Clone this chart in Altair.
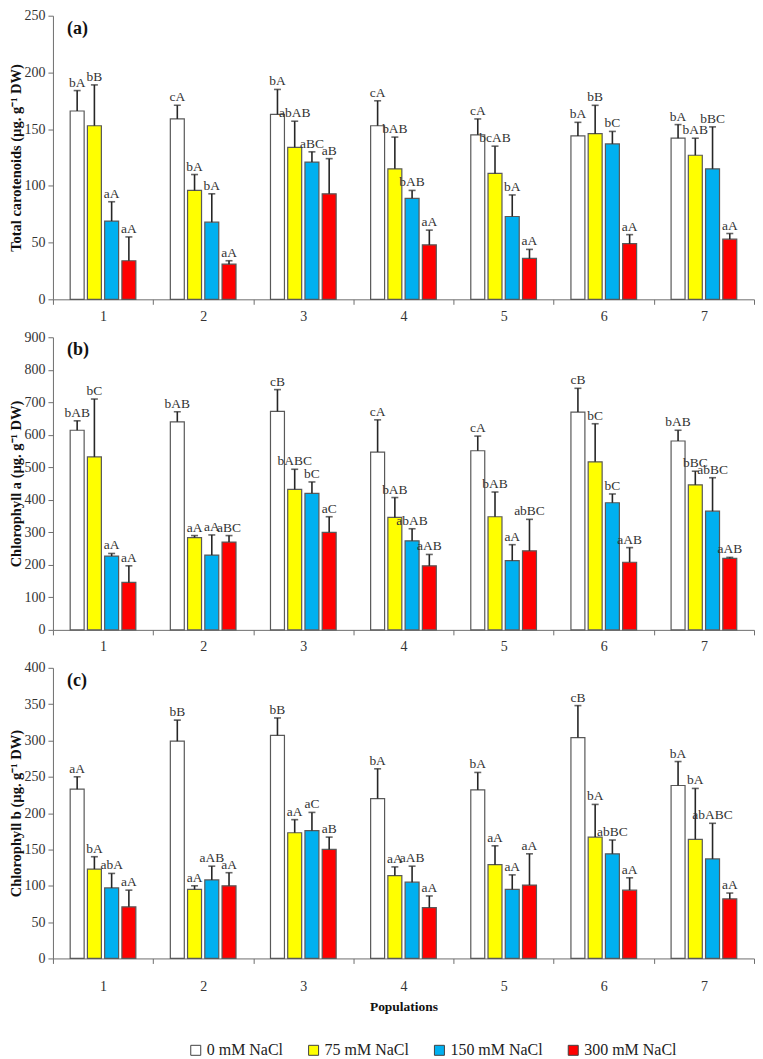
import altair as alt
import pandas as pd

populations = ["1", "2", "3", "4", "5", "6", "7"]
treatments = ["0 mM NaCl", "75 mM NaCl", "150 mM NaCl", "300 mM NaCl"]
fill_colors = ["#FFFFFF", "#FFFF00", "#00B0F0", "#FF0000"]

# (a) Total carotenoids
car_mean_0 = [166, 159, 163, 153, 145, 144, 142]
car_sd_0 = [18, 12, 22, 22, 14, 12, 12]
car_mean_75 = [153, 96, 134, 115, 111, 146, 127]
car_sd_75 = [36, 14, 23, 28, 24, 25, 15]
car_mean_150 = [69, 68, 121, 89, 73, 137, 115]
car_sd_150 = [17, 25, 9, 7, 19, 11, 37]
car_mean_300 = [34, 31, 93, 48, 36, 49, 53]
car_sd_300 = [21, 3, 31, 13, 8, 8, 5]
car_let_0 = ["bA", "cA", "bA", "cA", "cA", "bA", "bA"]
car_let_75 = ["bB", "bA", "abAB", "bAB", "bcAB", "bB", "bAB"]
car_let_150 = ["aA", "bA", "aBC", "bAB", "bA", "bC", "bBC"]
car_let_300 = ["aA", "aA", "aB", "aA", "aA", "aA", "aA"]

# (b) Chlorophyll a
cha_mean_0 = [614, 640, 672, 547, 551, 670, 581]
cha_sd_0 = [29, 31, 67, 99, 45, 73, 33]
cha_mean_75 = [532, 284, 432, 346, 348, 517, 446]
cha_sd_75 = [178, 6, 62, 61, 76, 117, 42]
cha_mean_150 = [227, 230, 420, 274, 213, 391, 365]
cha_sd_150 = [8, 62, 35, 37, 49, 27, 103]
cha_mean_300 = [146, 270, 300, 197, 243, 208, 220]
cha_sd_300 = [51, 20, 48, 35, 97, 45, 3]
cha_let_0 = ["bAB", "bAB", "cB", "cA", "cA", "cB", "bAB"]
cha_let_75 = ["bC", "aA", "bABC", "bAB", "bAB", "bC", "bBC"]
cha_let_150 = ["aA", "aA", "bC", "abAB", "aA", "bC", "abBC"]
cha_let_300 = ["aA", "aBC", "aC", "aAB", "abBC", "aAB", "aAB"]

# (c) Chlorophyll b
chb_mean_0 = [233, 299, 307, 220, 232, 304, 238]
chb_sd_0 = [17, 29, 24, 41, 24, 44, 33]
chb_mean_75 = [123, 95, 173, 114, 129, 167, 164]
chb_sd_75 = [17, 5, 18, 12, 26, 45, 70]
chb_mean_150 = [97, 108, 176, 105, 95, 144, 137]
chb_sd_150 = [20, 19, 25, 22, 20, 19, 49]
chb_mean_300 = [71, 100, 150, 70, 101, 94, 82]
chb_sd_300 = [23, 18, 17, 16, 43, 17, 8]
chb_let_0 = ["aA", "bB", "bB", "bA", "bA", "cB", "bA"]
chb_let_75 = ["bA", "aA", "aA", "aA", "aA", "bA", "bA"]
chb_let_150 = ["abA", "aAB", "aC", "aAB", "aA", "abBC", "abABC"]
chb_let_300 = ["aA", "aA", "aB", "aA", "aA", "aA", "aA"]

FONT = "Liberation Serif"


def build(means, sds, lets):
    rows = []
    for t, m, s, l in zip(treatments, means, sds, lets):
        for p, mv, sv, lv in zip(populations, m, s, l):
            rows.append(dict(Population=p, Treatment=t, Mean=mv, Upper=mv + sv, Letter=lv))
    return pd.DataFrame(rows)


def panel(df, ymax, ystep, ytitle, tag, height, last):
    x = alt.X(
        "Population:N",
        sort=populations,
        scale=alt.Scale(paddingInner=0, paddingOuter=0),
        axis=alt.Axis(
            title="Populations" if last else None,
            tickBand="extent",
            labelAngle=0,
            labelFont=FONT,
            labelFontSize=14,
            labelColor="#333333",
            labelPadding=16 if last else 5,
            labelOverlap=False,
            tickSize=5,
            tickColor="#6e6e6e",
            domainColor="#6e6e6e",
            titleFont=FONT,
            titleFontSize=13.5,
            titleFontWeight="bold",
            titleColor="#111111",
            titlePadding=6,
        ),
    )
    xoff = alt.XOffset(
        "Treatment:N",
        sort=treatments,
        scale=alt.Scale(domain=treatments, paddingInner=0.19, paddingOuter=1),
    )
    yscale = alt.Scale(domain=[0, ymax], nice=False)
    yaxis = alt.Axis(
        title=ytitle,
        values=list(range(0, ymax + 1, ystep)),
        grid=False,
        labelFont=FONT,
        labelFontSize=14,
        labelColor="#333333",
        labelPadding=3,
        labelOverlap=False,
        tickSize=5,
        tickColor="#6e6e6e",
        domainColor="#6e6e6e",
        titleFont=FONT,
        titleFontSize=14.5,
        titleFontWeight="bold",
        titleColor="#111111",
        titleX=-29,
    )
    base = alt.Chart(df).encode(x=x, xOffset=xoff)
    bars = base.mark_bar(stroke="#595959", strokeWidth=1.2).encode(
        y=alt.Y("Mean:Q", scale=yscale, axis=yaxis),
        color=alt.Color(
            "Treatment:N",
            sort=treatments,
            scale=alt.Scale(domain=treatments, range=fill_colors),
            legend=alt.Legend(
                title=None,
                orient="none",
                legendX=135,
                legendY=1028,
                direction="horizontal",
                symbolType="square",
                symbolSize=100,
                symbolStrokeColor="#404040",
                symbolStrokeWidth=1,
                labelFont=FONT,
                labelFontSize=16,
                labelColor="#222222",
                labelOffset=3,
                columnPadding=22,
            ),
        ),
    )
    err = base.mark_rule(color="#262626", strokeWidth=1.6).encode(
        y=alt.Y("Mean:Q", scale=yscale, axis=yaxis), y2="Upper:Q"
    )
    cap = base.mark_tick(color="#262626", thickness=1.6, size=7, orient="horizontal").encode(
        y=alt.Y("Upper:Q", scale=yscale, axis=yaxis)
    )
    txt = base.mark_text(
        font=FONT, fontSize=13.5, baseline="alphabetic", dy=-4, color="#333333"
    ).encode(y=alt.Y("Upper:Q", scale=yscale, axis=yaxis), text="Letter:N")
    lab = alt.Chart(pd.DataFrame({"tag": [tag]})).mark_text(
        font=FONT, fontSize=18, fontWeight="bold", align="left", baseline="top", color="#111111"
    ).encode(x=alt.value(14), y=alt.value(4), text="tag:N")
    return alt.layer(bars, err, cap, txt, lab).properties(width=702, height=height)


df_a = build(
    [car_mean_0, car_mean_75, car_mean_150, car_mean_300],
    [car_sd_0, car_sd_75, car_sd_150, car_sd_300],
    [car_let_0, car_let_75, car_let_150, car_let_300],
)
df_b = build(
    [cha_mean_0, cha_mean_75, cha_mean_150, cha_mean_300],
    [cha_sd_0, cha_sd_75, cha_sd_150, cha_sd_300],
    [cha_let_0, cha_let_75, cha_let_150, cha_let_300],
)
df_c = build(
    [chb_mean_0, chb_mean_75, chb_mean_150, chb_mean_300],
    [chb_sd_0, chb_sd_75, chb_sd_150, chb_sd_300],
    [chb_let_0, chb_let_75, chb_let_150, chb_let_300],
)

pa = panel(df_a, 250, 50, "Total carotenoids (µg. g⁻¹ DW)", "(a)", 284, False)
pb = panel(df_b, 900, 100, "Chlorophyll a (µg. g⁻¹ DW)", "(b)", 293, False)
pc = panel(df_c, 400, 50, "Chlorophyll b (µg. g⁻¹ DW)", "(c)", 291, True)

chart = (
    alt.vconcat(pa, pb, pc, spacing=7)
    .properties(padding={"left": 0, "top": 0, "right": 0, "bottom": 0})
    .configure_view(stroke=None)
)

chart.save("out.html", embed_options={"renderer": "svg", "actions": False})
